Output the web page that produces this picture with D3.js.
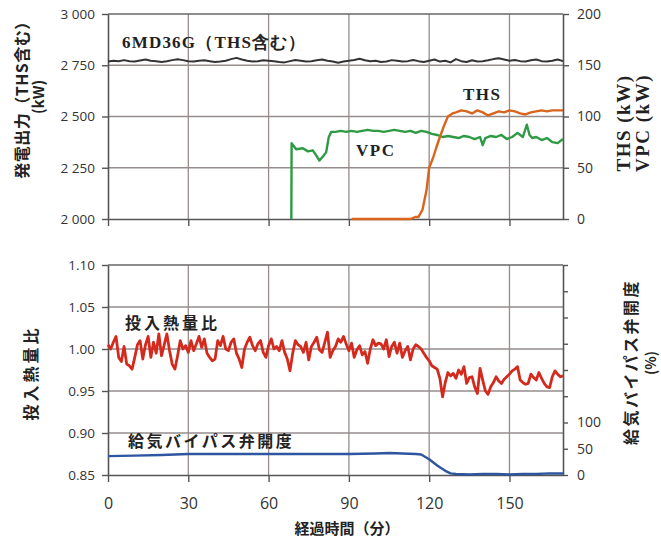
<!DOCTYPE html>
<html>
<head>
<meta charset="utf-8">
<script src="https://cdnjs.cloudflare.com/ajax/libs/d3/7.8.5/d3.min.js"></script>
<style>
  body { margin: 0; background: #fff; }
  svg { display: block; }
  .tick text { font-family: "Open Sans", sans-serif; fill: #333; }
  .jp { font-family: "Noto Sans CJK JP", sans-serif; font-weight: bold; fill: #222; }
  .serif { font-family: "Liberation Serif", "DejaVu Serif", serif; font-weight: bold; fill: #222; }
</style>
</head>
<body>
<svg width="661" height="545"></svg>
<script>
// --- data ---
var xTicks = [0, 30, 60, 90, 120, 150];

// generator output incl. THS, kW, one point every 2 min from 0
var genStep = 2;
var genKW = [2768, 2772, 2770, 2775, 2770, 2768, 2773, 2778, 2772, 2770,
             2766, 2770, 2775, 2779, 2775, 2770, 2768, 2772, 2774, 2770,
             2766, 2768, 2772, 2780, 2786, 2778, 2772, 2768, 2770, 2774,
             2772, 2770, 2766, 2764, 2770, 2776, 2772, 2768, 2770, 2774,
             2778, 2772, 2768, 2762, 2768, 2772, 2776, 2782, 2774, 2770,
             2772, 2766, 2768, 2775, 2772, 2768, 2770, 2776, 2770, 2766,
             2772, 2778, 2768, 2772, 2764, 2780, 2770, 2766, 2774, 2768,
             2770, 2774, 2780, 2784, 2778, 2772, 2776, 2770, 2768, 2774,
             2778, 2770, 2768, 2772, 2778, 2770];

// VPC output, kW
var vpcT  = [68.5, 68.6, 70.3, 72.8, 74.7, 76.5, 77.8, 79, 80.3, 81.5, 82.5, 83.4,
             85, 87, 89, 91, 93, 95, 97, 99, 101, 103, 105, 107, 109, 111, 113,
             115, 117, 119, 121, 123, 125, 127, 129, 131, 133, 135, 137, 139, 140,
             141, 143, 145, 147, 149, 151, 153, 155, 156.5, 157.5, 158.5, 160,
             162, 164, 166, 168, 170];
var vpcKW = [0, 74, 68, 69, 66, 67, 62, 57, 61, 65, 80, 85,
             85, 86, 85, 86, 85, 86, 87, 86, 86, 85, 86, 87, 86, 85, 86,
             84, 86, 85, 83, 82, 80, 81, 80, 79, 81, 80, 78, 80, 72,
             79, 81, 80, 82, 78, 80, 84, 80, 92, 82, 79, 80,
             77, 79, 75, 74, 78];

// THS output, kW
var thsT  = [91, 95, 100, 105, 110, 113, 115, 116, 117.5, 119,
             120, 121.5, 122.7, 124, 125.7, 127, 128.7, 130, 132, 134,
             136, 138, 140, 142, 144, 146, 148, 150, 152, 154,
             156, 158, 160, 162, 164, 166, 168, 170];
var thsKW = [0, 0, 0, 0, 0, 0, 2, 2, 9, 28,
             50, 60, 70, 80, 92, 100, 103, 104, 106, 105,
             103, 106, 104, 101, 103, 105, 104, 106, 105, 103,
             102, 104, 105, 106, 105, 106, 106, 106];

// heat input ratio, one point per minute from 0
var heatStep = 1;
var heatRatio = [
  1.005, 1.000, 1.008, 1.015, 0.990, 0.985, 1.003, 0.982, 0.980, 0.976,
  0.990, 1.005, 1.010, 0.988, 1.005, 1.015, 0.990, 1.008, 0.995, 1.018,
  0.992, 1.005, 1.018, 0.998, 0.982, 0.976, 0.992, 1.010, 1.000, 1.004,
  0.996, 1.010, 0.998, 1.006, 1.015, 1.002, 1.012, 0.995, 0.990, 0.986,
  0.988, 1.010, 1.004, 1.015, 1.000, 0.998, 1.008, 1.012, 0.995, 0.988,
  0.978, 1.000, 1.008, 1.014, 1.004, 0.998, 1.006, 1.010, 0.996, 0.990,
  1.004, 1.012, 1.000, 1.003, 0.998, 1.010, 0.996, 0.988, 0.974, 0.995,
  1.010, 1.005, 1.003, 0.996, 1.008, 0.987, 1.003, 1.008, 1.014, 0.999,
  0.996, 1.008, 1.020, 0.990, 0.998, 1.003, 1.012, 1.008, 1.015, 1.006,
  0.998, 1.007, 0.990, 0.999, 1.004, 0.993, 0.997, 0.983, 1.000, 1.011,
  1.004, 1.007, 1.006, 1.000, 1.011, 0.991, 1.003, 1.008, 0.995, 1.007,
  0.990, 0.998, 1.003, 0.987, 1.000, 1.005, 1.003, 1.000, 0.995, 0.990,
  0.986, 0.980, 0.978, 0.976, 0.965, 0.943, 0.960, 0.972, 0.968, 0.971,
  0.965, 0.975, 0.970, 0.979, 0.959, 0.966, 0.967, 0.955, 0.947, 0.977,
  0.963, 0.950, 0.946, 0.955, 0.960, 0.967, 0.962, 0.959, 0.964, 0.967,
  0.970, 0.974, 0.976, 0.979, 0.963, 0.960, 0.958, 0.959, 0.970, 0.966,
  0.963, 0.972, 0.965, 0.959, 0.955, 0.954, 0.967, 0.974, 0.970, 0.967,
  0.968];

// intake bypass valve opening, %
var bypassT   = [0, 10, 20, 30, 40, 50, 60, 70, 80, 90, 100, 105, 110, 115, 117,
                 120, 123, 126, 128, 130, 135, 140, 145, 150, 155, 160, 165, 170];
var bypassPct = [36, 37, 38, 40, 40, 40, 40, 40, 40, 40, 41, 42, 41, 40, 39,
                 30, 18, 8, 3, 2, 1, 2, 2, 1, 2, 2, 3, 3];

var genTicks = [2000, 2250, 2500, 2750, 3000];
var kwTicks = [0, 50, 100, 150, 200];
var ratioTicks = [0.85, 0.90, 0.95, 1.00, 1.05, 1.10];
var pctTicks = [0, 50, 100, 150, 200, 250, 300, 350, 400];

// --- layout ---
var svg = d3.select('svg');
var left = 108, right = 563;
var top1 = 14, bot1 = 219;
var top2 = 265, bot2 = 475;

var x = d3.scaleLinear().domain([0, 170]).range([left, right]);
var yGen = d3.scaleLinear().domain([2000, 3000]).range([bot1, top1]);
var yKW = d3.scaleLinear().domain([0, 200]).range([bot1, top1]);
var yRatio = d3.scaleLinear().domain([0.85, 1.10]).range([bot2, top2]);
var yPct = d3.scaleLinear().domain([0, 400]).range([bot2, top2]);

var spaceFmt = d3.formatLocale({decimal: '.', thousands: ' ', grouping: [3], currency: ['', '']}).format(',');

var gridColor = '#958d8c';
var axisColor = '#555';

function grid(yScale, yVals, y0, y1) {
  var g = svg.append('g');
  g.selectAll('.hg')
    .data(yVals)
    .enter()
    .append('line')
    .attr('x1', left).attr('x2', right)
    .attr('y1', function(d) { return yScale(d); })
    .attr('y2', function(d) { return yScale(d); })
    .attr('stroke', gridColor)
    .attr('stroke-width', 1.3);
  g.selectAll('.vg')
    .data(xTicks.slice(1))
    .enter()
    .append('line')
    .attr('x1', function(d) { return x(d); })
    .attr('x2', function(d) { return x(d); })
    .attr('y1', y0).attr('y2', y1)
    .attr('stroke', gridColor)
    .attr('stroke-width', 1.3);
}

grid(yGen, [2250, 2500, 2750], top1, bot1);
grid(yRatio, [0.90, 0.95, 1.00, 1.05], top2, bot2);

// top border line of each panel
[top1, top2].forEach(function(yy) {
  svg.append('line').attr('x1', left).attr('x2', right).attr('y1', yy).attr('y2', yy)
    .attr('stroke', '#666').attr('stroke-width', 1.5);
});

function styleAxis(g, size) {
  g.select('.domain').attr('stroke', axisColor).attr('stroke-width', 1.6);
  g.selectAll('.tick line').attr('stroke', axisColor).attr('stroke-width', 1.4);
  g.selectAll('.tick text').style('font-size', size + 'px');
}

// top panel axes
var gx1 = svg.append('g').attr('transform', 'translate(0,' + bot1 + ')')
  .call(d3.axisBottom(x).tickValues(xTicks).tickSize(7).tickSizeOuter(0).tickFormat(''));
styleAxis(gx1, 14);
var gy1 = svg.append('g').attr('transform', 'translate(' + left + ',0)')
  .call(d3.axisLeft(yGen).tickValues(genTicks).tickSize(6).tickSizeOuter(0).tickPadding(7).tickFormat(spaceFmt));
styleAxis(gy1, 13.5);
var gy1r = svg.append('g').attr('transform', 'translate(' + right + ',0)')
  .call(d3.axisRight(yKW).tickValues(kwTicks).tickSize(6).tickSizeOuter(0).tickPadding(8));
styleAxis(gy1r, 14);

// bottom panel axes
var gx2 = svg.append('g').attr('transform', 'translate(0,' + bot2 + ')')
  .call(d3.axisBottom(x).tickValues(xTicks).tickSize(7).tickSizeOuter(0).tickPadding(16));
styleAxis(gx2, 16);
var gy2 = svg.append('g').attr('transform', 'translate(' + left + ',0)')
  .call(d3.axisLeft(yRatio).tickValues(ratioTicks).tickSize(6).tickSizeOuter(0).tickPadding(7).tickFormat(d3.format('.2f')));
styleAxis(gy2, 13.5);
var gy2r = svg.append('g').attr('transform', 'translate(' + right + ',0)')
  .call(d3.axisRight(yPct).tickValues(pctTicks).tickSize(5).tickSizeOuter(0).tickPadding(9)
    .tickFormat(function(d) { return d <= 100 ? d : ''; }));
styleAxis(gy2r, 14);

// --- lines ---
function drawLine(pts, yScale, color, width) {
  svg.append('path')
    .datum(pts)
    .attr('fill', 'none')
    .attr('stroke', color)
    .attr('stroke-width', width)
    .attr('stroke-linejoin', 'round')
    .attr('d', d3.line()
      .x(function(d) { return x(d[0]); })
      .y(function(d) { return yScale(d[1]); }));
}

drawLine(genKW.map(function(v, i) { return [i * genStep, v]; }), yGen, '#333', 2);
drawLine(vpcT.map(function(t, i) { return [t, vpcKW[i]]; }), yKW, '#2f9a44', 2.4);
drawLine(thsT.map(function(t, i) { return [t, thsKW[i]]; }), yKW, '#d8641e', 2.4);
drawLine(heatRatio.map(function(v, i) { return [i * heatStep, v]; }), yRatio, '#d42a1e', 2.8);
drawLine(bypassT.map(function(t, i) { return [t, bypassPct[i]]; }), yPct, '#2d55a0', 2.4);

// --- labels ---
function label(txt, cls, px, py, size, rot, spacing) {
  var t = svg.append('text')
    .attr('class', cls)
    .attr('transform', 'translate(' + px + ',' + py + ')' + (rot ? ' rotate(' + rot + ')' : ''))
    .attr('text-anchor', rot ? 'middle' : 'start')
    .attr('dominant-baseline', 'central')
    .style('font-size', size + 'px')
    .text(txt);
  if (spacing) t.style('letter-spacing', spacing + 'px');
  return t;
}

label('6MD36G（THS含む）', 'serif', 122, 42, 17, 0, 1.2);
label('THS', 'serif', 463, 94, 17, 0, 1.5);
label('VPC', 'serif', 356, 150, 17, 0, 1.5);
label('投入熱量比', 'jp', 125, 322, 16, 0, 3);
label('給気バイパス弁開度', 'jp', 128, 440, 16, 0, 2.5);

label('発電出力（THS含む）', 'jp', 21, 96, 16, -90, 0.5);
label('(kW)', 'jp', 37, 97, 15, -90);
label('THS (kW)', 'serif', 623, 123, 19, -90, 1.5);
label('VPC (kW)', 'serif', 642, 123, 19, -90, 1.5);
label('投入熱量比', 'jp', 30, 373, 16, -90, 3);
label('給気バイパス弁開度', 'jp', 630, 362, 16, -90, 2.5);
label('(%)', 'jp', 650, 363, 14, -90);

svg.append('text')
  .attr('class', 'jp')
  .attr('x', 347).attr('y', 527)
  .attr('text-anchor', 'middle')
  .attr('dominant-baseline', 'central')
  .style('font-size', '15px')
  .text('経過時間（分）');
</script>
</body>
</html>
